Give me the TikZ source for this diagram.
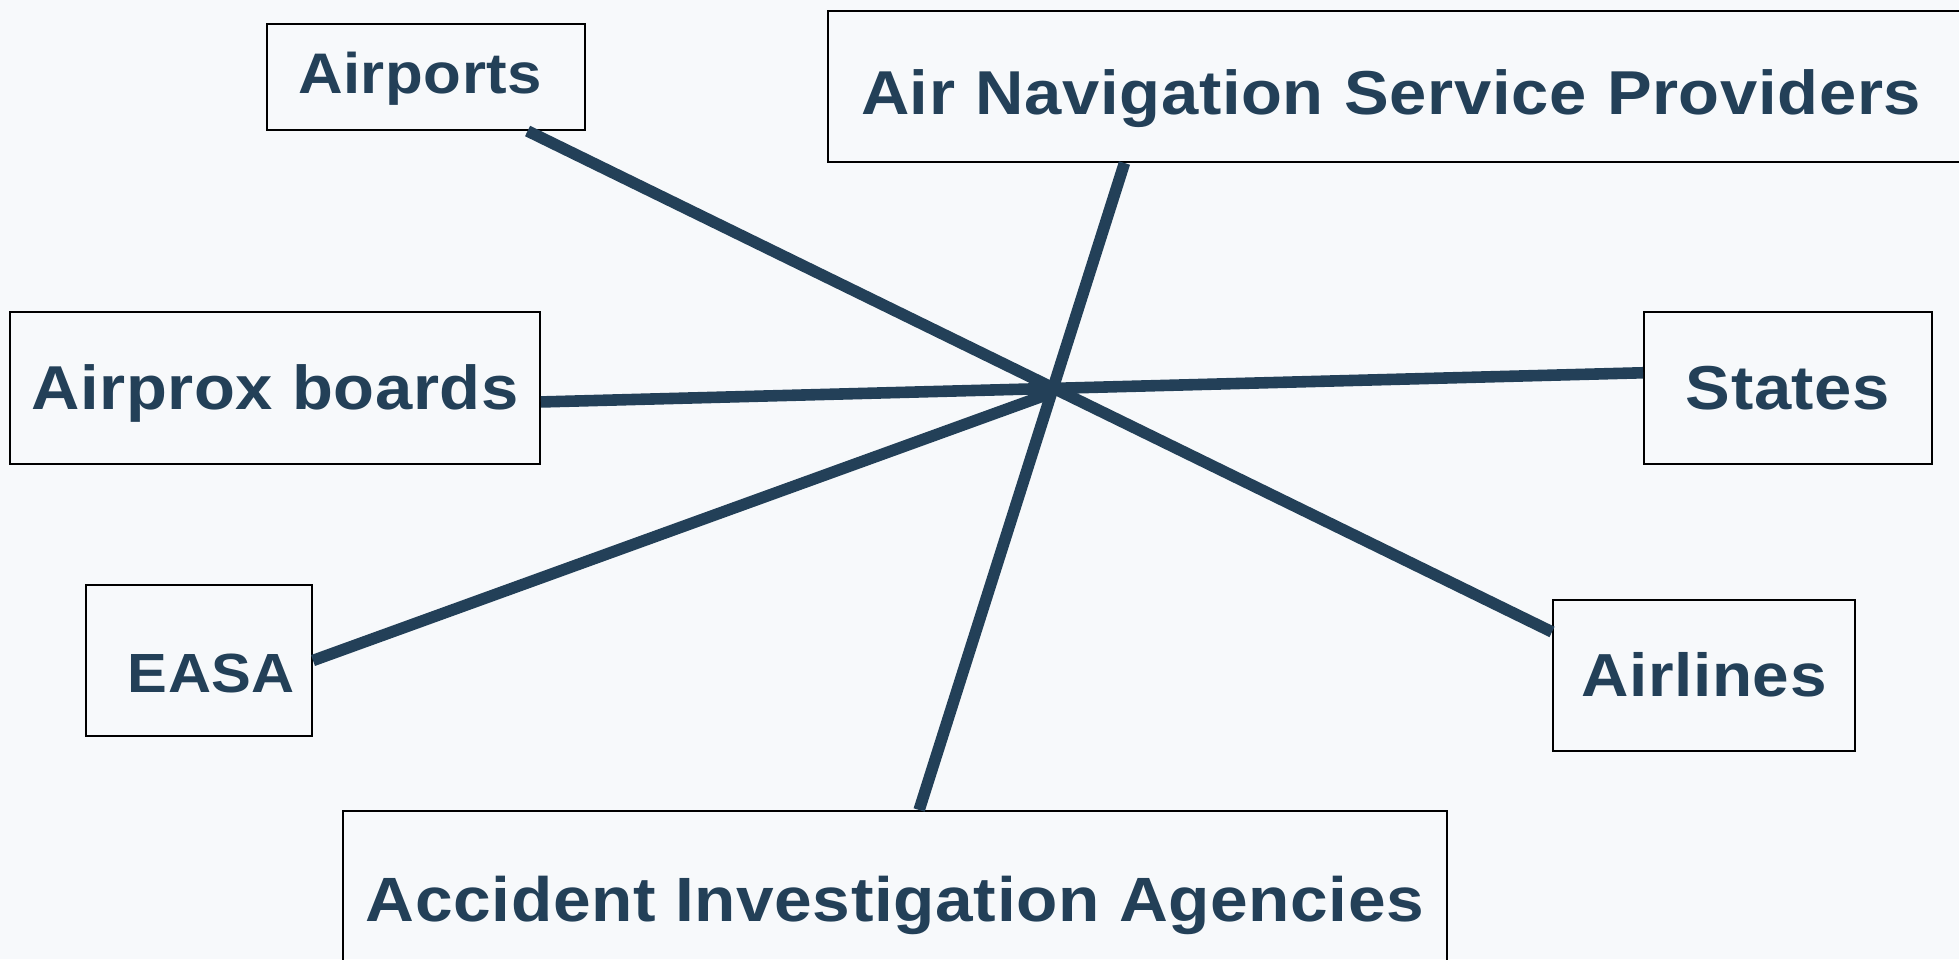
\documentclass[tikz,border=0pt]{standalone}
\usepackage{fontspec}
\setmainfont{Liberation Sans}[FakeStretch=1.08, LetterSpace=1]
\definecolor{ink}{RGB}{35,64,88}
\definecolor{paper}{RGB}{247,249,251}

\begin{document}
\begin{tikzpicture}[x=0.5pt,y=-0.5pt,
    box/.style={draw=black, line width=1pt, text=ink, inner sep=0pt,
        font=\bfseries\fontsize{31}{36}\selectfont, text height=21.3pt, text depth=0pt},
    link/.style={draw=ink, line width=5.8pt}]
    % Page
    \useasboundingbox (0,0) rectangle (1959,959);
    \fill[paper] (0,0) rectangle (1959,959);
    \clip (0,0) rectangle (1959,959);
    % Organisations
    \node[box, minimum height=53pt, inner xsep=15.5pt, text width=128pt, align=left, font=\bfseries\fontsize{28.6}{32}\selectfont, text height=19.7pt, text depth=3pt] (airports) at (426,77) {Airports};
    \node[box, anchor=north west, minimum height=75.5pt, inner xsep=16.5pt, text width=549pt, align=left, text height=27.8pt] (ansp) at (827,10) {Air Navigation Service Providers};
    \node[box, minimum width=265pt, minimum height=76pt] (airprox) at (275,388) {Airprox boards};
    \node[box, minimum width=144pt, minimum height=76pt] (states) at (1788,388) {States};
    \node[box, minimum height=75.5pt, inner xsep=8.5pt, text width=96pt, align=right, font=\bfseries\fontsize{27.6}{32}\selectfont, text height=31.5pt] (easa) at (199,660.5) {EASA};
    \node[box, minimum width=151pt, minimum height=75.5pt, font=\bfseries\fontsize{30.4}{35}\selectfont, text height=20.9pt] (airlines) at (1704,675.5) {Airlines};
    \node[box, minimum width=552pt, minimum height=89pt, font=\bfseries\fontsize{31.3}{36}\selectfont] (aia) at (895,900) {Accident Investigation Agencies};
    % Links crossing at the hub
    \coordinate (hub) at (1054,392);
    \draw[link] (airports.-28) -- (airlines.164);
    \draw[link] (ansp.195) -- (aia.75.5);
    \draw[link] (airprox.-3) -- (states.174);
    \draw[link] (easa.east) -- (hub);
\end{tikzpicture}
\end{document}
